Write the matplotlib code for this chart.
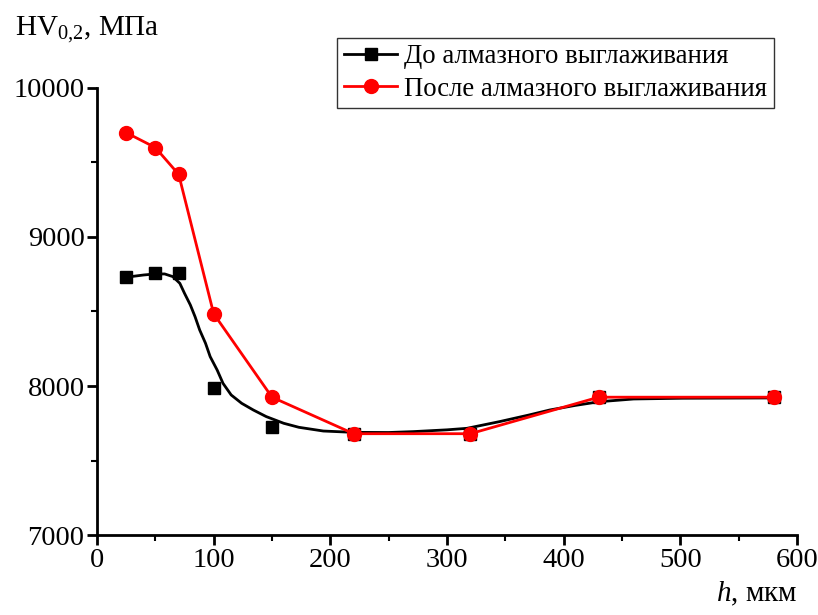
import matplotlib.pyplot as plt
from matplotlib.ticker import MultipleLocator

plt.rcParams['font.family'] = ['Liberation Serif', 'DejaVu Serif']
plt.rcParams['mathtext.fontset'] = 'custom'
plt.rcParams['mathtext.rm'] = 'Liberation Serif'
plt.rcParams['mathtext.it'] = 'Liberation Serif:italic'

# Data
depth = [25, 50, 70, 100, 150, 220, 320, 430, 580]
hv_before = [8730, 8755, 8760, 7985, 7725, 7680, 7680, 7925, 7925]
hv_after = [9700, 9600, 9420, 8485, 7925, 7680, 7680, 7925, 7925]

# smooth curve through "before" points
curve_x = [25, 40, 50, 58, 65, 71, 75, 80, 84, 88, 93, 97, 103, 108, 115,
           124, 134, 145, 160, 173, 194, 220, 250, 271, 300, 317, 345, 370,
           388, 410, 431, 460, 502, 580]
curve_y = [8730, 8745, 8752, 8752, 8734, 8689, 8622, 8544, 8466, 8376, 8287,
           8197, 8107, 8018, 7940, 7884, 7839, 7795, 7750, 7723, 7698, 7689,
           7688, 7694, 7706, 7716, 7761, 7805, 7839, 7870, 7895, 7913, 7918,
           7920]

label_before = 'До алмазного выглаживания'
label_after = 'После алмазного выглаживания'

fig = plt.figure(figsize=(8.18, 6.15), dpi=100)
ax = fig.add_axes([0.1186, 0.130, 0.8557, 0.727])

ax.plot(curve_x, curve_y, color='black', lw=2, zorder=2)
ax.plot(depth, hv_before, 's', color='black', ms=9, zorder=3)
ax.plot(depth, hv_after, '-o', color='red', lw=2, ms=10, zorder=4)

# legend handles (line + marker)
h1, = ax.plot([], [], '-s', color='black', lw=2, ms=9, label=label_before)
h2, = ax.plot([], [], '-o', color='red', lw=2, ms=10, label=label_after)
leg = fig.legend(handles=[h1, h2], loc='upper left',
                 bbox_to_anchor=(0.412, 0.939), fontsize=19.3, frameon=True,
                 fancybox=False, edgecolor='black', borderpad=0.25,
                 handlelength=2.0, handletextpad=0.25, labelspacing=0.28,
                 borderaxespad=0)
leg.get_frame().set_linewidth(1.0)

ax.set_xlim(0, 600)
ax.set_ylim(7000, 10000)
ax.xaxis.set_major_locator(MultipleLocator(100))
ax.xaxis.set_minor_locator(MultipleLocator(50))
ax.yaxis.set_major_locator(MultipleLocator(1000))
ax.yaxis.set_minor_locator(MultipleLocator(500))

for s in ['top', 'right']:
    ax.spines[s].set_visible(False)
for s in ['left', 'bottom']:
    ax.spines[s].set_linewidth(2)

ax.tick_params(which='major', direction='out', length=7, width=2,
               labelsize=20.5, pad=2)
ax.tick_params(which='minor', direction='out', length=4, width=1.5)

fig.text(0.018, 0.952, r'HV$_{0{,}2}$, МПа', fontsize=21, ha='left',
         va='center')
fig.text(0.975, 0.012, r'$h$, мкм', fontsize=21, ha='right', va='bottom')

fig.savefig('out.png', dpi=100)
